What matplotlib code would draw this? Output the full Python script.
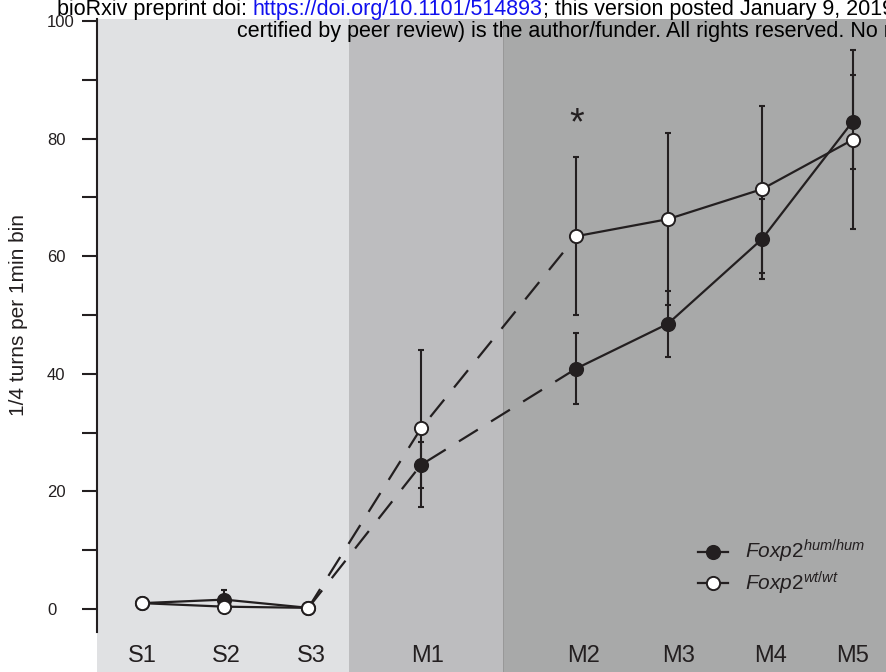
import numpy as np
import matplotlib
matplotlib.use("Agg")
import matplotlib.pyplot as plt
from matplotlib import font_manager
from matplotlib.lines import Line2D

# pick a condensed sans if we have it
names = {f.name for f in font_manager.fontManager.ttflist}
narrow = "Liberation Sans Narrow" if "Liberation Sans Narrow" in names else "Liberation Sans"

plt.rcParams["font.family"] = [narrow, "DejaVu Sans"]
plt.rcParams["mathtext.fontset"] = "custom"
plt.rcParams["mathtext.it"] = narrow + ":italic"
plt.rcParams["mathtext.rm"] = narrow

# data
sessions = ["S1", "S2", "S3", "M1", "M2", "M3", "M4", "M5"]
hum_mean = [1.0, 1.6, 0.2, 24.5, 40.9, 48.5, 62.9, 82.9]
hum_err = [0.3, 1.6, 0.2, 3.9, 6.0, 5.6, 6.8, 8.0]
wt_mean = [1.0, 0.4, 0.2, 30.7, 63.4, 66.3, 71.4, 79.8]
wt_err = [0.3, 0.3, 0.3, 13.3, 13.4, 14.6, 14.2, 15.2]
yticks_major = [0, 20, 40, 60, 80, 100]
yticks_minor = [10, 30, 50, 70, 90]

# layout (x positions of sessions are uneven in the original)
xpos = [1.0, 1.98, 2.98, 4.32, 6.17, 7.26, 8.38, 9.46]
label_x = [1.0, 2.0, 3.01, 4.4, 6.26, 7.39, 8.48, 9.46]
ink = "#231f20"

fig = plt.figure(figsize=(8.87, 6.72), dpi=100)
ax = fig.add_axes([97 / 887, 0, 1 - 97 / 887, 1 - 19 / 672])
ax.set_xlim(0.464, 9.869)
ax.set_ylim(-10.71, 100.34)

# background blocks
ax.axvspan(0.464, 3.464, color="#e0e1e3", lw=0, zorder=0)
ax.axvspan(3.464, 5.298, color="#bdbdbf", lw=0, zorder=0)
ax.axvspan(5.298, 9.869, color="#a8a9a9", lw=0, zorder=0)
ax.axvline(5.298, color="#959595", lw=0.6, zorder=0.5)

# error bars
for m, e in [(hum_mean, hum_err), (wt_mean, wt_err)]:
    ax.errorbar(xpos, m, yerr=e, fmt="none", ecolor=ink, elinewidth=1.5,
                capsize=2.5, capthick=1.5, zorder=2)

# lines: solid within S and M2..M5, dashed bridging S3 -> M1 -> M2
for m in [hum_mean, wt_mean]:
    ax.plot(xpos[:3], m[:3], color=ink, lw=1.6, zorder=3)
    ax.plot(xpos[2:5], m[2:5], color=ink, lw=1.6, ls=(0, (10, 7)), zorder=3)
    ax.plot(xpos[4:], m[4:], color=ink, lw=1.6, zorder=3)

ax.plot(xpos, hum_mean, ls="none", marker="o", ms=9.5, mfc=ink, mec=ink, mew=1.4, zorder=4)
ax.plot(xpos, wt_mean, ls="none", marker="o", ms=9.5, mfc="white", mec=ink, mew=1.4, zorder=5)

# significance star
ax.text(xpos[4], 80.8, "*", ha="center", va="baseline", fontsize=27, color=ink)

# session labels
for lx, s in zip(label_x, sessions):
    ax.text(lx, -9.0, s, ha="center", va="baseline", fontsize=17, color=ink)

# axes styling
for side in ["top", "right", "bottom"]:
    ax.spines[side].set_visible(False)
ax.spines["left"].set_linewidth(1.5)
ax.spines["left"].set_color(ink)
ax.spines["left"].set_bounds(-3.9, 100.34)
ax.set_xticks([])
ax.set_yticks(yticks_major)
ax.set_yticks(yticks_minor, minor=True)
ax.set_yticklabels([str(v) for v in yticks_major])
ax.tick_params(axis="y", which="both", length=10.8, width=1.5, color=ink)
ax.tick_params(axis="y", which="major", pad=25.2, labelsize=12, labelcolor=ink)
for t in ax.get_yticklabels():
    t.set_horizontalalignment("left")

fig.text(19 / 887, 1 - 315 / 672, "1/4 turns per 1min bin", rotation=90,
         ha="center", va="center", fontsize=15, family="Liberation Sans", color=ink)

# legend
handles = [
    Line2D([], [], color=ink, lw=1.6, marker="o", ms=9.5, mfc=ink, mec=ink, mew=1.4),
    Line2D([], [], color=ink, lw=1.6, marker="o", ms=9.5, mfc="white", mec=ink, mew=1.4),
]
labels = [r"$\mathit{Foxp2}^{\mathit{hum/hum}}$", r"$\mathit{Foxp2}^{\mathit{wt/wt}}$"]
leg = ax.legend(handles, labels, loc="center left", bbox_to_anchor=(0.7608, 0.160),
                frameon=False, fontsize=15, handlelength=1.45, handletextpad=0.8,
                labelspacing=0.2, borderpad=0, borderaxespad=0, numpoints=1)
for t in leg.get_texts():
    t.set_color(ink)

# preprint header
hdr = 15.5
t1 = fig.text(57 / 887, 1 - 15 / 672, "bioRxiv preprint doi: ", fontsize=hdr,
              va="baseline", color="black")
t2 = ax.annotate("https://doi.org/10.1101/514893", xy=(1, 0), xycoords=t1,
                 va="bottom", fontsize=hdr, color="#1010ee", annotation_clip=False)
t3 = ax.annotate("; this version posted January 9, 2019.",
                 xy=(1, 0), xycoords=t2, va="bottom", fontsize=hdr, color="black",
                 annotation_clip=False)
fig.text(237 / 887, 1 - 37 / 672,
         "certified by peer review) is the author/funder. All rights reserved. No reuse",
         fontsize=hdr, va="baseline", color="black")

fig.savefig("out.png", dpi=100)
